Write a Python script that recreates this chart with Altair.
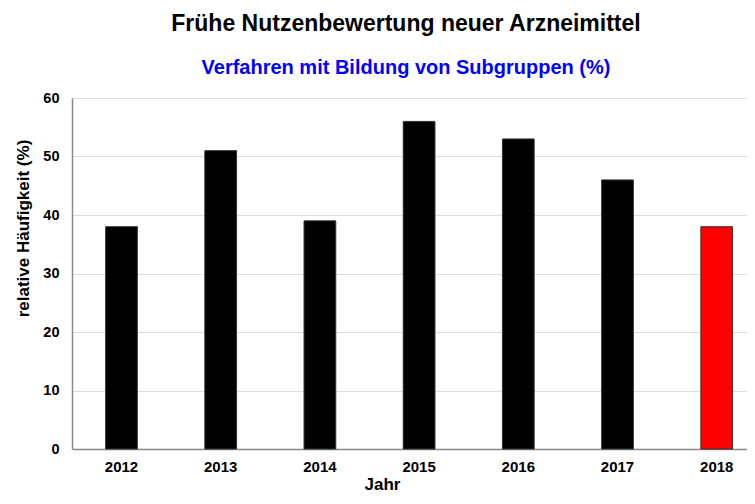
import altair as alt
import pandas as pd

years = ["2012", "2013", "2014", "2015", "2016", "2017", "2018"]
values = [38, 51, 39, 56, 53, 46, 38]
bar_colors = ["#000000", "#000000", "#000000", "#000000", "#000000", "#000000", "#ff0000"]

df = pd.DataFrame({"Jahr": years, "Wert": values})

FONT = "Liberation Sans"

chart = alt.Chart(df).mark_bar(stroke="#333333", strokeWidth=1).encode(
    x=alt.X(
        "Jahr:N",
        sort=years,
        scale=alt.Scale(paddingInner=0.68, paddingOuter=0.242, align=0.70),
        axis=alt.Axis(
            title="Jahr",
            labelAngle=0,
            ticks=False,
            tickSize=0,
            labelPadding=10,
            labelFontSize=15,
            labelFontWeight="bold",
            labelFont=FONT,
            labelColor="#000000",
            titleFontSize=17,
            titleFontWeight="bold",
            titleFont=FONT,
            titleColor="#000000",
            titleX=310,
            titleY=40,
            titleBaseline="alphabetic",
            titleAlign="center",
            domainColor="#888888",
            domainWidth=1.5,
            grid=False,
        ),
    ),
    y=alt.Y(
        "Wert:Q",
        scale=alt.Scale(domain=[0, 60], nice=False),
        axis=alt.Axis(
            title="relative Häufigkeit (%)",
            values=[0, 10, 20, 30, 40, 50, 60],
            ticks=False,
            tickSize=0,
            labelPadding=13,
            labelFontSize=14.5,
            labelFontWeight="bold",
            labelFont=FONT,
            labelColor="#000000",
            titleFontSize=17,
            titleFontWeight="bold",
            titleFont=FONT,
            titleColor="#000000",
            titleX=-44,
            titleY=130,
            titleBaseline="alphabetic",
            titleAlign="center",
            domainColor="#888888",
            domainWidth=1.5,
            gridColor="#dddddd",
            gridWidth=1,
        ),
    ),
    color=alt.Color("Jahr:N", scale=alt.Scale(domain=years, range=bar_colors), legend=None),
).properties(
    width=675,
    height=351,
    autosize=alt.AutoSizeParams(type="none"),
    padding={"left": 64, "top": 90, "right": 0, "bottom": 45},
    title=alt.TitleParams(
        text="Frühe Nutzenbewertung neuer Arzneimittel",
        subtitle="Verfahren mit Bildung von Subgruppen (%)",
        anchor="middle",
        frame="group",
        dx=-3.5,
        font=FONT,
        fontSize=23,
        fontWeight="bold",
        color="#000000",
        subtitleFont=FONT,
        subtitleFontSize=20,
        subtitleFontWeight="bold",
        subtitleColor="#0000ff",
        subtitlePadding=22,
        offset=12,
    ),
).configure_view(stroke=None)

chart.save("out.html", embed_options={"renderer": "svg", "actions": False})
